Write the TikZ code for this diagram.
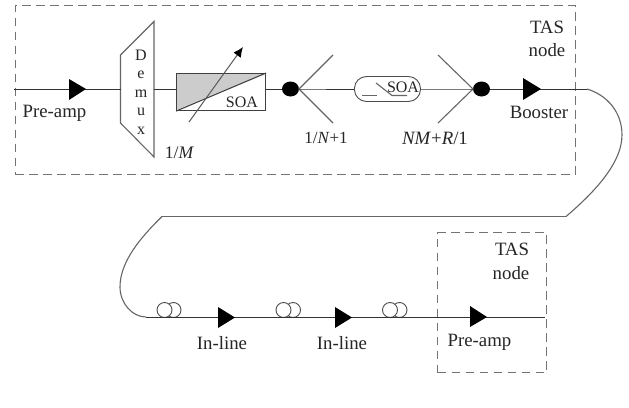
\documentclass[tikz,border=0pt]{standalone}
\usepackage{fontspec}
\setmainfont{Liberation Serif}
\usetikzlibrary{arrows.meta,shapes.geometric}
\tikzset{
 x=1pt,y=-1pt,
 ln/.style={draw=black!80,line width=.95pt},
 gln/.style={draw=black!60,line width=1.1pt},
 dbox/.style={draw=black!55,line width=1.4pt,dash pattern=on 8.5pt off 5.5pt},
 lbl/.style={font=\fontsize{18.8}{20}\selectfont,inner sep=0pt,text=black!85},
 slbl/.style={font=\fontsize{16}{17}\selectfont,inner sep=0pt,text=black!85},
 amp/.style={fill=black,draw=none},
 dot/.style={ellipse,fill=black,draw=none,minimum width=17pt,minimum height=15pt,inner sep=0pt},
 coil/.style={circle,draw=black!70,line width=.9pt,fill=white,minimum size=15pt,inner sep=0pt},
}
\begin{document}
\begin{tikzpicture}
\useasboundingbox (0,0) rectangle (629,407);
\fill[white] (0,0) rectangle (629,407);
% dashed boxes
\node[dbox,minimum width=560pt,minimum height=169.5pt,inner sep=0pt,anchor=north west] (tas1) at (14.5,4.5) {};
\node[dbox,minimum width=109pt,minimum height=140pt,inner sep=0pt,anchor=north west] (tas2) at (437,232) {};
% top row anchors
\coordinate (in) at (14,89);
\coordinate (f1) at (299,89);
\coordinate (f2) at (473,89);
\coordinate (bend1) at (587,89);
\coordinate (wr) at (566,216.5);
\coordinate (wl) at (162,216.5);
\coordinate (bend2) at (146,317);
\coordinate (out) at (545,317);
% demux
\draw[gln,fill=white] (120.5,55) -- (154,21.5) -- (154,157) -- (120.5,123) -- cycle;
\coordinate (dmL) at (120.5,89); \coordinate (dmR) at (154,89);
\node[slbl] (d1) at (141,55) {D};
\node[slbl] (d2) at (141,75) {e};
\node[slbl] (d3) at (141,94) {m};
\node[slbl] (d4) at (141,112) {u};
\node[slbl] (d5) at (141,131) {x};
% SOA box
\fill[black!20] (176,73) -- (265,73) -- (176,110) -- cycle;
\node[draw=black!75,line width=1.1pt,minimum width=89pt,minimum height=37pt,inner sep=0pt,anchor=north west] (soa) at (176,73) {};
\draw[draw=black!75,line width=1.1pt] (soa.south west) -- (soa.north east);
\node[slbl] (soat) at (242,102) {SOA};
\coordinate (tuneA) at (189,122); \coordinate (tuneB) at (243,47);
\draw[draw=black!65,line width=1pt,-{Latex[length=10pt,width=9pt,black]}] (tuneA) -- (tuneB);
% dots
\node[dot] (dot1) at (290.5,89) {};
\node[dot] (dot2) at (481.5,89) {};
% fans
\coordinate (f1a) at (333,55); \coordinate (f1b) at (333,123);
\coordinate (f2a) at (438,55); \coordinate (f2b) at (438,123);
\draw[gln] (f1a) -- (f1) -- (f1b);
\draw[gln] (f2a) -- (f2) -- (f2b);
% switch
\node[draw=black!70,line width=.9pt,rounded corners=12pt,minimum width=66pt,minimum height=25pt,inner sep=0pt,anchor=west] (sw) at (354,89) {};
\coordinate (s1) at (362,95.5); \coordinate (s2) at (377,95.5); \coordinate (s3) at (376,83); \coordinate (s4) at (392,95.5); \coordinate (s5) at (407,95.5);
\draw[gln] (s1) -- (s2);
\draw[gln] (s3) -- (s4) -- (s5);
\node[slbl] (swt) at (403,87) {SOA};
% main line
\draw[ln] (in) -- (dmL);
\draw[ln] (dmR) -- (soa.west |- dmR);
\draw[ln] (soa.east |- dmR) -- (dot1);
\draw[ln] (dot1) -- (f1) -- (sw.west);
\draw[ln] (sw.east) -- (f2) -- (dot2);
\draw[ln] (dot2) -- (bend1);
\draw[gln] (bend1) .. controls (607,95) and (622,112) .. (622,135) .. controls (622,165) and (590,196) .. (wr);
\draw[gln,line width=1.4pt] (wr) -- (wl);
\draw[gln] (wl) .. controls (140,238) and (120,262) .. (120,287) .. controls (120,303) and (132,317) .. (bend2);
% coils
\node[coil] (c1b) at (173.5,310) {};
\node[coil] (c1a) at (164.5,310) {};
\node[coil] (c2b) at (293,310) {};
\node[coil] (c2a) at (283.5,310) {};
\node[coil] (c3b) at (399.5,310) {};
\node[coil] (c3a) at (390,310) {};
\draw[ln] (bend2) -- (out);
% amplifiers
\fill[amp] (69,79) -- (86,89) -- (69,100) -- cycle;
\fill[amp] (523,78) -- (541,89) -- (523,100) -- cycle;
\fill[amp] (218,307) -- (235,317.5) -- (218,328) -- cycle;
\fill[amp] (335,307) -- (352,317.5) -- (335,328) -- cycle;
\fill[amp] (470,306) -- (487,317) -- (470,327) -- cycle;
% labels
\node[lbl] (t1) at (54.5,113) {Pre-amp};
\node[lbl,font=\fontsize{17.6}{19}\selectfont] (t2) at (179.5,153) {1/\textit{M}};
\node[lbl,font=\fontsize{17}{19}\selectfont] (t3) at (326,138) {1/\textit{N}+1};
\node[lbl] (t4) at (435,138) {\textit{NM}+\textit{R}/1};
\node[lbl] (t5) at (539,112) {Booster};
\node[lbl] (t6) at (547,27) {TAS};
\node[lbl] (t7) at (547,50) {node};
\node[lbl] (t8) at (512,249) {TAS};
\node[lbl] (t9) at (511,273) {node};
\node[lbl] (t10) at (222,343) {In-line};
\node[lbl] (t11) at (342,343) {In-line};
\node[lbl] (t12) at (479.5,342) {Pre-amp};
\end{tikzpicture}
\end{document}
